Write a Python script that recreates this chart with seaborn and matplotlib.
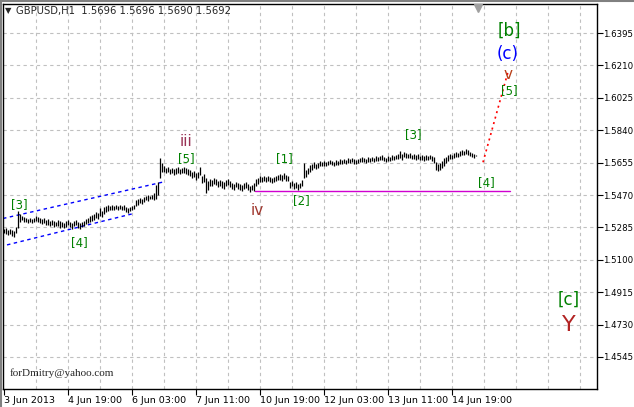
import numpy as np
import pandas as pd
import seaborn as sns
import matplotlib.pyplot as plt
from matplotlib.transforms import blended_transform_factory

# GBPUSD H1 bars (high / low), bar index = hours shown on chart
highs = [
    1.5276, 1.5282, 1.5270, 1.5276, 1.5270, 1.5264, 1.5287, 1.5379, 1.5361, 1.5350,
    1.5344, 1.5339, 1.5333, 1.5339, 1.5333, 1.5339, 1.5350, 1.5344, 1.5339, 1.5333,
    1.5339, 1.5327, 1.5333, 1.5322, 1.5327, 1.5322, 1.5316, 1.5327, 1.5322, 1.5316,
    1.5310, 1.5322, 1.5327, 1.5316, 1.5310, 1.5322, 1.5327, 1.5316, 1.5310, 1.5316,
    1.5322, 1.5333, 1.5339, 1.5350, 1.5356, 1.5361, 1.5373, 1.5367, 1.5396, 1.5379,
    1.5401, 1.5407, 1.5413, 1.5407, 1.5413, 1.5407, 1.5413, 1.5407, 1.5413, 1.5407,
    1.5413, 1.5401, 1.5396, 1.5401, 1.5407, 1.5413, 1.5441, 1.5447, 1.5453, 1.5447,
    1.5459, 1.5464, 1.5470, 1.5464, 1.5470, 1.5481, 1.5527, 1.5544, 1.5681, 1.5653,
    1.5636, 1.5624, 1.5630, 1.5618, 1.5624, 1.5618, 1.5624, 1.5630, 1.5618, 1.5624,
    1.5630, 1.5624, 1.5618, 1.5613, 1.5601, 1.5607, 1.5596, 1.5601, 1.5630, 1.5578,
    1.5590, 1.5567, 1.5550, 1.5561, 1.5556, 1.5567, 1.5561, 1.5550, 1.5556, 1.5550,
    1.5544, 1.5556, 1.5561, 1.5550, 1.5538, 1.5533, 1.5544, 1.5538, 1.5533, 1.5527,
    1.5538, 1.5544, 1.5533, 1.5521, 1.5527, 1.5538, 1.5561, 1.5567, 1.5578, 1.5573,
    1.5578, 1.5573, 1.5578, 1.5573, 1.5567, 1.5573, 1.5578, 1.5584, 1.5590, 1.5584,
    1.5596, 1.5584, 1.5578, 1.5544, 1.5550, 1.5538, 1.5544, 1.5533, 1.5538, 1.5556,
    1.5653, 1.5613, 1.5624, 1.5641, 1.5647, 1.5658, 1.5647, 1.5653, 1.5664, 1.5658,
    1.5664, 1.5658, 1.5664, 1.5670, 1.5664, 1.5658, 1.5670, 1.5664, 1.5676, 1.5670,
    1.5676, 1.5670, 1.5681, 1.5676, 1.5681, 1.5676, 1.5670, 1.5676, 1.5681, 1.5687,
    1.5681, 1.5676, 1.5687, 1.5681, 1.5687, 1.5681, 1.5693, 1.5687, 1.5693, 1.5698,
    1.5687, 1.5681, 1.5693, 1.5687, 1.5698, 1.5693, 1.5698, 1.5704, 1.5721, 1.5704,
    1.5716, 1.5710, 1.5704, 1.5710, 1.5698, 1.5704, 1.5698, 1.5704, 1.5693, 1.5698,
    1.5693, 1.5698, 1.5693, 1.5698, 1.5693, 1.5687, 1.5658, 1.5647, 1.5653, 1.5664,
    1.5681, 1.5687, 1.5698, 1.5704, 1.5698, 1.5710, 1.5716, 1.5710, 1.5721, 1.5727,
    1.5721, 1.5733, 1.5727, 1.5716, 1.5710, 1.5704, 1.5696,
]
lows = [
    1.5253, 1.5247, 1.5242, 1.5247, 1.5236, 1.5230, 1.5253, 1.5282, 1.5316, 1.5327,
    1.5316, 1.5316, 1.5310, 1.5316, 1.5310, 1.5316, 1.5322, 1.5316, 1.5310, 1.5304,
    1.5310, 1.5299, 1.5299, 1.5293, 1.5299, 1.5287, 1.5293, 1.5293, 1.5282, 1.5287,
    1.5282, 1.5287, 1.5299, 1.5287, 1.5276, 1.5293, 1.5299, 1.5282, 1.5276, 1.5287,
    1.5293, 1.5304, 1.5310, 1.5316, 1.5322, 1.5327, 1.5339, 1.5333, 1.5350, 1.5344,
    1.5361, 1.5373, 1.5379, 1.5384, 1.5384, 1.5384, 1.5390, 1.5384, 1.5390, 1.5384,
    1.5384, 1.5373, 1.5367, 1.5379, 1.5384, 1.5390, 1.5407, 1.5413, 1.5424, 1.5419,
    1.5430, 1.5441, 1.5436, 1.5447, 1.5447, 1.5441, 1.5447, 1.5470, 1.5567, 1.5601,
    1.5601, 1.5596, 1.5601, 1.5590, 1.5596, 1.5584, 1.5590, 1.5596, 1.5590, 1.5596,
    1.5596, 1.5590, 1.5584, 1.5578, 1.5567, 1.5573, 1.5556, 1.5567, 1.5584, 1.5538,
    1.5544, 1.5481, 1.5499, 1.5521, 1.5521, 1.5533, 1.5527, 1.5516, 1.5521, 1.5510,
    1.5504, 1.5521, 1.5527, 1.5516, 1.5504, 1.5499, 1.5516, 1.5504, 1.5499, 1.5493,
    1.5504, 1.5510, 1.5499, 1.5487, 1.5499, 1.5493, 1.5521, 1.5533, 1.5544, 1.5544,
    1.5550, 1.5544, 1.5550, 1.5544, 1.5538, 1.5544, 1.5550, 1.5556, 1.5556, 1.5550,
    1.5561, 1.5550, 1.5550, 1.5510, 1.5521, 1.5504, 1.5510, 1.5499, 1.5510, 1.5521,
    1.5567, 1.5573, 1.5590, 1.5601, 1.5613, 1.5624, 1.5618, 1.5624, 1.5636, 1.5636,
    1.5636, 1.5636, 1.5641, 1.5647, 1.5641, 1.5636, 1.5641, 1.5641, 1.5647, 1.5647,
    1.5653, 1.5647, 1.5653, 1.5653, 1.5658, 1.5647, 1.5647, 1.5653, 1.5658, 1.5658,
    1.5658, 1.5653, 1.5658, 1.5658, 1.5664, 1.5658, 1.5664, 1.5664, 1.5670, 1.5670,
    1.5664, 1.5658, 1.5664, 1.5664, 1.5670, 1.5670, 1.5676, 1.5676, 1.5681, 1.5670,
    1.5687, 1.5681, 1.5681, 1.5681, 1.5676, 1.5676, 1.5670, 1.5676, 1.5670, 1.5670,
    1.5664, 1.5670, 1.5670, 1.5676, 1.5664, 1.5653, 1.5613, 1.5607, 1.5613, 1.5624,
    1.5636, 1.5653, 1.5664, 1.5676, 1.5676, 1.5681, 1.5687, 1.5687, 1.5693, 1.5698,
    1.5698, 1.5704, 1.5698, 1.5693, 1.5687, 1.5681, 1.5690,
]

# hand drawn objects (bar index, price)
channel_top = ([-0.5, 79.5], [1.5336, 1.5544])
channel_bottom = ([1.5, 64.0], [1.5185, 1.5362])
support_line = ([125.5, 253.0], [1.5495, 1.5495])
projection = ([239.5, 252.0], [1.5657, 1.6173])

# wave labels: text, bar, price, colour, size
wave_labels = [
    ("[3]", 7.5, 1.5413, "#008000", 8.5),
    ("[4]", 37.5, 1.5196, "#008000", 8.5),
    ("iii", 91.0, 1.5778, "#993355", 11),
    ("[5]", 91.0, 1.5681, "#008000", 8.5),
    ("iv", 126.5, 1.5384, "#a0382f", 11),
    ("[1]", 140.0, 1.5681, "#008000", 8.5),
    ("[2]", 148.5, 1.5436, "#008000", 8.5),
    ("[3]", 204.5, 1.5818, "#008000", 8.5),
    ("[4]", 241.0, 1.5544, "#008000", 8.5),
    ("[b]", 252.5, 1.6406, "#008000", 12),
    ("(c)", 252.0, 1.6275, "#0000ff", 12),
    ("v", 252.0, 1.6161, "#b8401a", 11),
    ("[5]", 252.5, 1.6064, "#008000", 8.5),
    ("[c]", 282.5, 1.4870, "#008000", 12),
    ("Y", 282.5, 1.4728, "#b22222", 16),
]

price_ticks = [1.4545, 1.4730, 1.4915, 1.5100, 1.5285, 1.5470, 1.5655,
               1.5840, 1.6025, 1.6210, 1.6395]
time_ticks = [0, 32, 64, 96, 128, 160, 192, 224]
time_labels = ["3 Jun 2013", "4 Jun 19:00", "6 Jun 03:00", "7 Jun 11:00",
               "10 Jun 19:00", "12 Jun 03:00", "13 Jun 11:00", "14 Jun 19:00"]

bars = pd.DataFrame({"bar": np.arange(len(highs)), "high": highs, "low": lows})

sns.set_style("white")
W, H = 634, 407
fig = plt.figure(figsize=(W / 100, H / 100), dpi=100)
ax = fig.add_axes([3 / W, 1 - 389 / H, 594 / W, 385 / H])

ax.set_xlim(-0.5, 296.5)
ax.set_ylim(1.4362, 1.6561)

# grid like the terminal
for gx in np.arange(16, 296, 16):
    ax.axvline(gx, color="#c0c0c0", lw=0.8, ls=(0, (3, 3)), zorder=0)
for gy in price_ticks:
    ax.axhline(gy, color="#c0c0c0", lw=0.8, ls=(0, (3, 3)), zorder=0)

ax.vlines(bars["bar"], bars["low"], bars["high"], color="black", lw=0.9,
          zorder=3)

sns.lineplot(x=channel_top[0], y=channel_top[1], ax=ax, color="#0000ff",
             lw=1, linestyle=(0, (2.5, 2.5)), zorder=2)
sns.lineplot(x=channel_bottom[0], y=channel_bottom[1], ax=ax, color="#0000ff",
             lw=1, linestyle=(0, (2.5, 2.5)), zorder=2)
sns.lineplot(x=support_line[0], y=support_line[1], ax=ax, color="#d000d0",
             lw=1, zorder=2)
sns.lineplot(x=projection[0], y=projection[1], ax=ax, color="#ff0000",
             lw=1.2, linestyle=(0, (1.2, 2.2)), zorder=2)

for txt, bx, py, col, size in wave_labels:
    ax.text(bx, py, txt, color=col, fontsize=size, ha="center", va="center",
            family="DejaVu Sans", zorder=4)

# chart shift marker
trans = blended_transform_factory(ax.transData, ax.transAxes)
ax.plot([237], [0.99], marker="v", color="#a0a0a0", ms=6, transform=trans,
        clip_on=False, zorder=5)

ax.yaxis.tick_right()
ax.set_yticks(price_ticks)
ax.set_yticklabels([f"{v:.4f}" for v in price_ticks], fontsize=6.2)
ax.set_xticks(time_ticks)
ax.set_xticklabels(time_labels, fontsize=6.8, ha="left")
ax.tick_params(axis="both", direction="out", length=4, width=0.8, colors="black",
               pad=1)
ax.tick_params(axis="y", right=True, left=False, pad=0.5)
ax.tick_params(axis="x", bottom=True)
for sp in ax.spines.values():
    sp.set_visible(True)
    sp.set_color("black")
    sp.set_linewidth(1)
ax.set_xlabel("")
ax.set_ylabel("")

fig.text(5 / W, 1 - 11 / H, "\u25bc", fontsize=6, va="center", ha="left")
fig.text(16 / W, 1 - 11 / H, "GBPUSD,H1  1.5696 1.5696 1.5690 1.5692",
         fontsize=7.2, va="center", ha="left")
fig.text(10 / W, 1 - 373 / H, "forDmitry@yahoo.com", fontsize=8, va="center",
         ha="left", family="Liberation Serif")

# window frame
fig.add_artist(plt.Line2D([0.5 / W, 0.5 / W], [0, 1], color="#808080", lw=1.5))
fig.add_artist(plt.Line2D([0, 1], [1 - 0.5 / H, 1 - 0.5 / H], color="#808080", lw=1.5))

fig.savefig("out.png", dpi=100)
